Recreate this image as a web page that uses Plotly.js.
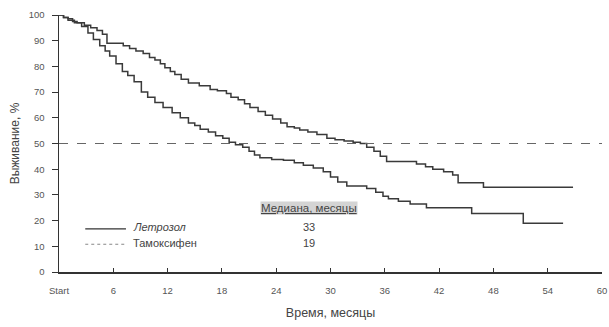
<!DOCTYPE html>
<html><head><meta charset="utf-8">
<script src="https://cdn.plot.ly/plotly-3.0.1.min.js"></script>
<style>html,body{margin:0;padding:0;background:#fff}#c{width:609px;height:327px}</style>
</head><body><div id="c"></div>
<script>
const tickVals = [0,6,12,18,24,30,36,42,48,54,60];
const tickText = ["Start","6","12","18","24","30","36","42","48","54","60"];
const letrozoleT = [0,0.5,1,1.5,2,2.8,3.5,4.2,4.8,5.3,7.1,7.8,8.5,9.3,10,10.6,11.2,11.7,12.3,12.8,13.5,14.3,15.5,16.7,17.5,18.5,19,19.8,20.5,21.1,22,22.8,23.6,24.5,25.2,26,26.6,27.5,28.5,29.6,30.5,31.5,32.5,33.3,34,34.8,35.5,36.2,39.5,40.5,41.3,42.5,43.5,44.1,46.9,56.8];
const letrozoleS = [100,99,98.5,97.5,97,96,95,94,92.5,89,88,87,86,85,83.5,82.5,81,79.5,78,76.8,75,73.5,72.5,71,70.5,69.5,68,67,65.5,64,62.5,61,59.5,58,56.5,56,55.3,54.5,53.5,52,51.5,51,50.5,50,48.5,47,45,43,42,41,40,39,37.7,34.7,33,33];
const tamoxT = [0,0.5,1,1.7,2.5,3.2,3.8,4.5,5.1,5.6,6.3,7,7.6,8.3,9.1,9.8,10.6,11.5,12.5,13.4,14.3,15,15.6,16.5,17.3,18.1,18.8,19.5,20.3,21,21.6,22.2,23.5,24.8,26,27,28.1,29.2,30,30.8,31.8,34,35,35.8,36.4,37.5,38.8,40.6,45.6,51.3,55.7];
const tamoxS = [100,99,98,97,95.5,93,90.5,88,86,84,81,78,76.5,74,70,68,66,64,62,60,58,57,55.5,54.5,53,52,50.5,49.5,48.5,47,45.5,44.5,43.8,43.5,42.5,41.5,40.5,39,37,35,33.5,32.5,31,29.5,28.5,27.5,26.5,25,22.8,19,19];
const seriesNames = ["Летрозол","Тамоксифен"];
const medians = ["33","19"];
const medianHeader = "Медиана, месяцы";
const refLevel = 50;

const FAM = 'Liberation Sans, Arial, sans-serif';
const lineCol = '#3a3a3a';
const traces = [
  {x: letrozoleT, y: letrozoleS, mode:'lines', line:{shape:'hv', color:lineCol, width:1.5}, name:seriesNames[0], hoverinfo:'skip'},
  {x: tamoxT, y: tamoxS, mode:'lines', line:{shape:'hv', color:lineCol, width:1.5}, name:seriesNames[1], hoverinfo:'skip'}
];
const fnt = {family:FAM, size:9.5, color:'#555'};
const txt = (s, it) => ({family:FAM, size:s, color:'#444', style: it ? 'italic' : 'normal'});
const layout = {
  width:609, height:327, margin:{l:59, r:7, t:15, b:55},
  paper_bgcolor:'#fff', plot_bgcolor:'#fff', showlegend:false,
  font: fnt,
  xaxis:{range:[0,60], tickvals:tickVals, ticktext:tickText, showgrid:false, zeroline:false,
    showline:true, linecolor:'#333', linewidth:1.5, ticks:'inside', ticklen:4, tickcolor:'#333', tickwidth:1,
    ticklabelstandoff:9, tickfont:fnt, title:{text:'Время, месяцы', font:txt(12.5), standoff:13}},
  yaxis:{range:[0,100], dtick:10, showgrid:false, zeroline:false,
    showline:true, linecolor:'#333', linewidth:1.5, ticks:'outside', ticklen:6, tickcolor:'#333', tickwidth:1,
    ticklabelstandoff:5, tickfont:fnt, title:{text:'Выживание, %', font:txt(12), standoff:6}},
  shapes:[
    {type:'line', xref:'x', yref:'y', x0:0, x1:60, y0:refLevel, y1:refLevel, line:{color:'#666', width:1, dash:'dash'}},
    {type:'line', xref:'x', yref:'y', x0:2.9, x1:7.4, y0:16.8, y1:16.8, line:{color:'#333', width:1.2}},
    {type:'line', xref:'x', yref:'y', x0:2.9, x1:7.4, y0:10.8, y1:10.8, line:{color:'#888', width:1.2, dash:'dot'}}
  ],
  annotations:[
    {xref:'x', yref:'y', x:7.9, y:17.5, xanchor:'left', yanchor:'middle', text:seriesNames[0], showarrow:false, font:txt(11, true)},
    {xref:'x', yref:'y', x:7.9, y:11.2, xanchor:'left', yanchor:'middle', text:seriesNames[1], showarrow:false, font:txt(11)},
    {xref:'x', yref:'y', x:27.6, y:24.8, xanchor:'center', yanchor:'middle', text:'<u>'+medianHeader+'</u>', showarrow:false, bgcolor:'#d4d4d4', borderpad:0, font:txt(11.5)},
    {xref:'x', yref:'y', x:27.6, y:17.5, xanchor:'center', yanchor:'middle', text:medians[0], showarrow:false, font:txt(11)},
    {xref:'x', yref:'y', x:27.6, y:11.2, xanchor:'center', yanchor:'middle', text:medians[1], showarrow:false, font:txt(11)}
  ]
};
Plotly.newPlot('c', traces, layout, {displayModeBar:false, staticPlot:true});
</script></body></html>
